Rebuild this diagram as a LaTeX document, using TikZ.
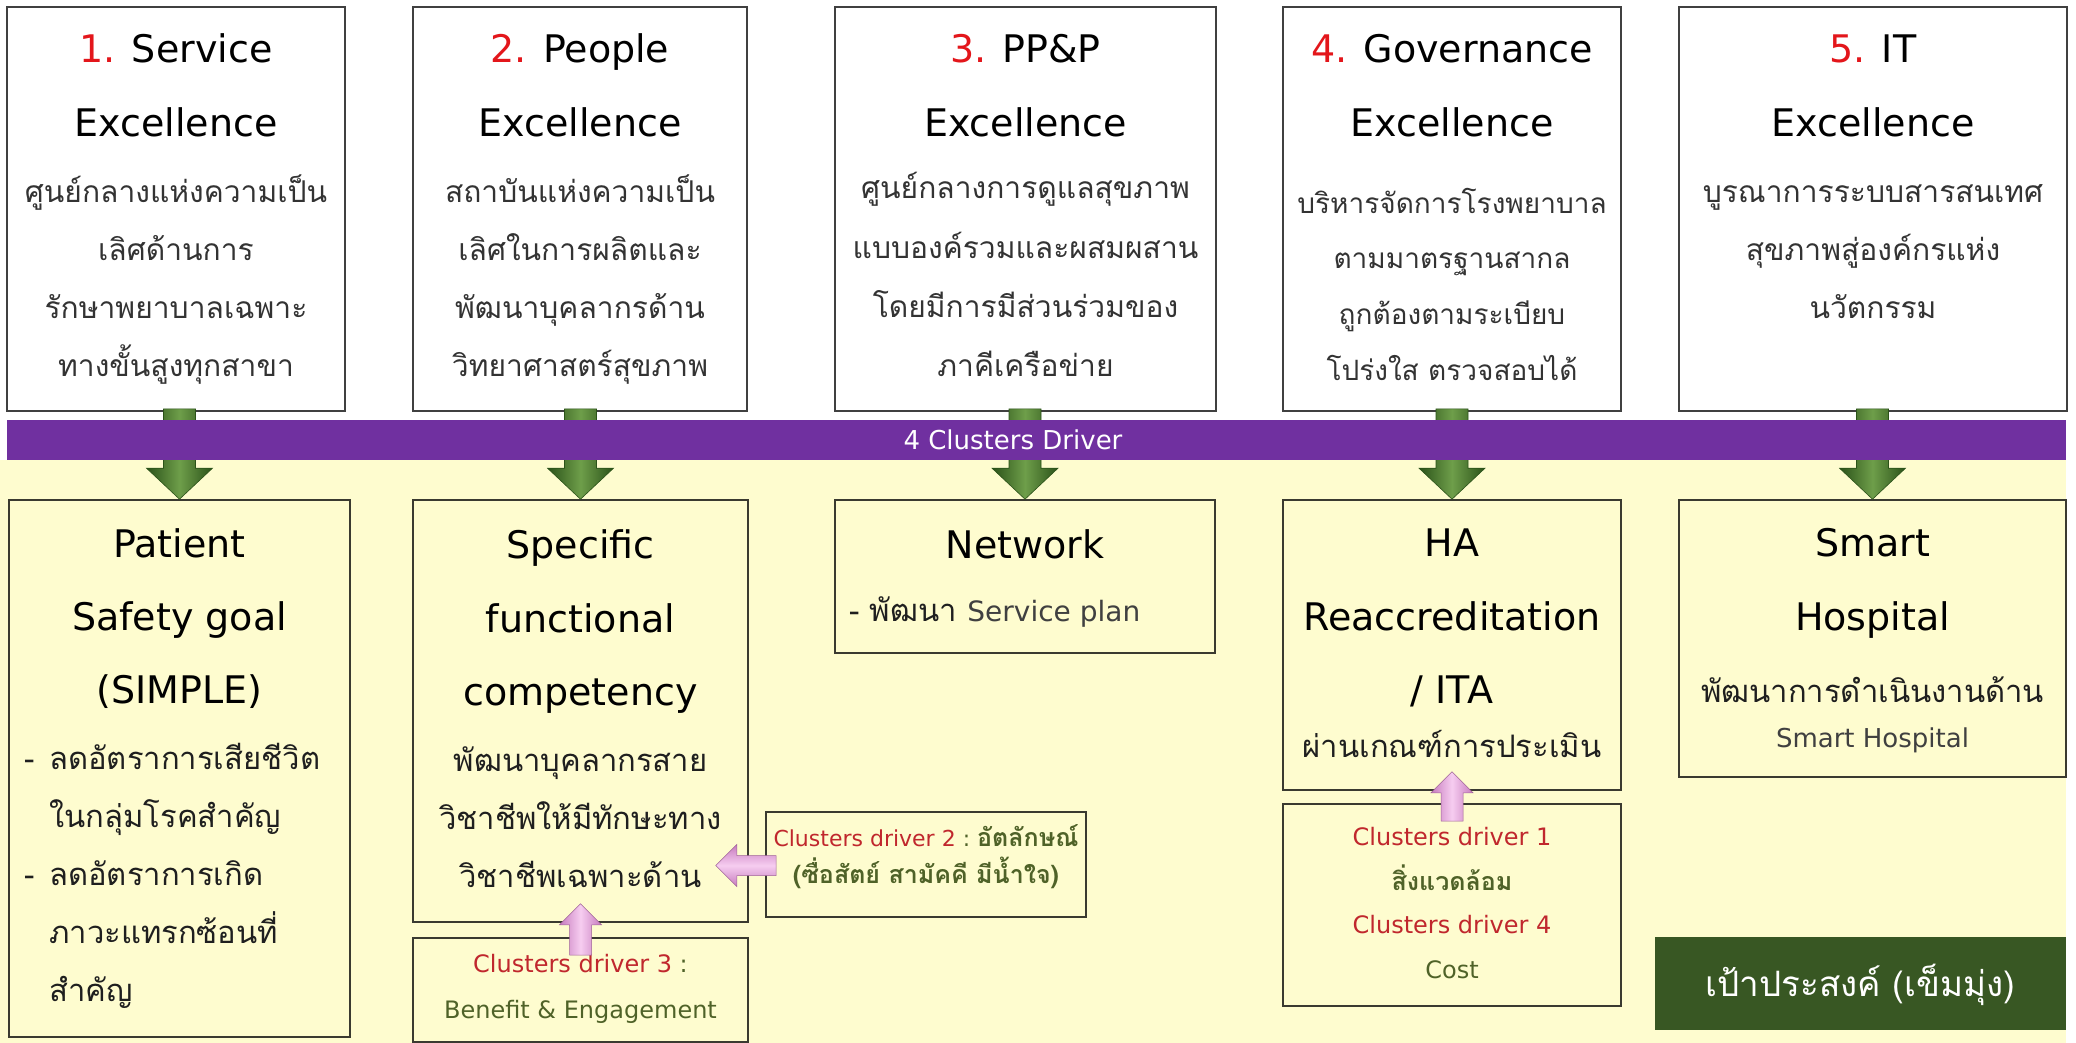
\documentclass[tikz,border=0pt]{standalone}
\usepackage{fontspec}
\setmainfont{DejaVu Sans}
\newfontfamily\thai[Script=Thai]{Loma}
\usetikzlibrary{calc}
\definecolor{numred}{HTML}{E3161B}
\definecolor{cred}{HTML}{C0272D}
\definecolor{olive}{HTML}{4F6228}
\definecolor{bandc}{HTML}{7030A0}
\definecolor{bgy}{HTML}{FEFCCF}
\definecolor{goalg}{HTML}{385723}
\definecolor{gdark}{HTML}{2B5219}
\definecolor{glight}{HTML}{6E9E4A}
\definecolor{pklight}{HTML}{F6CDF0}
\definecolor{pkdark}{HTML}{C77BBE}
\definecolor{edgec}{HTML}{404040}
\definecolor{edgeb}{HTML}{3A3A30}
\definecolor{thgray}{HTML}{333333}
\newcommand\grarrow[3]{% top node, bottom node, name
  \path (#2.north) coordinate (#3tip);
  \coordinate (#3top) at ($(#3tip |- #1.south)+(0,-3)$);
  \shade[left color=gdark,right color=gdark,middle color=glight,draw=gdark,line width=0.6pt]
    ($(#3top)+(-16,0)$) -- ($(#3top)+(16,0)$) -- ($(#3tip)+(16,-31)$) -- ($(#3tip)+(33,-31)$)
    -- (#3tip) -- ($(#3tip)+(-33,-31)$) -- ($(#3tip)+(-16,-31)$) -- cycle;}
\newcommand\pkup[3]{% from node (bottom), to node (top), name
  \coordinate (#3tip) at ($(#2.south)+(0,-19)$);
  \coordinate (#3tail) at ($(#3tip |- #1.north)+(0,18)$);
  \shade[left color=pkdark,right color=pkdark,middle color=pklight,draw=pkdark!80!black,line width=0.5pt]
    ($(#3tail)+(-11,0)$) -- ($(#3tip)+(-11,21)$) -- ($(#3tip)+(-21,21)$) -- (#3tip)
    -- ($(#3tip)+(21,21)$) -- ($(#3tip)+(11,21)$) -- ($(#3tail)+(11,0)$) -- cycle;}
\tikzset{
  topbox/.style={draw=edgec,line width=1.6pt,fill=white,inner sep=0},
  botbox/.style={draw=edgeb,line width=1.6pt,fill=bgy,inner sep=0},
  ttl/.style={anchor=base,inner sep=0,font=\fontsize{38}{40}\selectfont},
  desc/.style={anchor=base,inner sep=0,text=thgray,font=\thai\fontsize{30}{32}\selectfont},
  bdesc/.style={anchor=base,inner sep=0,text=black!88,font=\thai\fontsize{31}{33}\selectfont},
  clus/.style={anchor=base,inner sep=0,font=\fontsize{24}{26}\selectfont},
}
\newcommand\thb{\thai\bfseries\fontsize{25}{27}\selectfont}
\begin{document}
\begin{tikzpicture}[x=1pt,y=-1pt]
\useasboundingbox (0,0) rectangle (2076,1043);
\fill[white] (0,0) rectangle (2076,1043);
\fill[bgy] (0,460) rectangle (2066,1043);
% top boxes
\node[topbox,minimum width=338,minimum height=404] (t1) at (176,209) {};
\node[topbox,minimum width=334,minimum height=404] (t2) at (580,209) {};
\node[topbox,minimum width=381,minimum height=404] (t3) at (1025.5,209) {};
\node[topbox,minimum width=338,minimum height=404] (t4) at (1452,209) {};
\node[topbox,minimum width=388,minimum height=404] (t5) at (1873,209) {};
% bottom boxes
\node[botbox,minimum width=341,minimum height=537] (b1) at (179.5,768.5) {};
\node[botbox,minimum width=335,minimum height=422] (b2) at (580.5,711) {};
\node[botbox,minimum width=380,minimum height=153] (b3) at (1025,576.5) {};
\node[botbox,minimum width=338,minimum height=290] (b4) at (1452,645) {};
\node[botbox,minimum width=387,minimum height=277] (b5) at (1872.5,638.5) {};
\node[botbox,minimum width=335,minimum height=104] (cd3) at (580.5,990) {};
\node[botbox,minimum width=320,minimum height=105] (cd2) at (926,864.5) {};
\node[botbox,minimum width=338,minimum height=202] (cd14) at (1452,905) {};
\node[fill=goalg,inner sep=0,minimum width=411,minimum height=93] (goal) at (1860.5,983.5) {};
% green arrows
\grarrow{t1}{b1}{ga}
\grarrow{t2}{b2}{gb}
\grarrow{t3}{b3}{gc}
\grarrow{t4}{b4}{gd}
\grarrow{t5}{b5}{ge}
% band
\node[fill=bandc,inner sep=0,minimum width=2059,minimum height=40] (band) at (1036.5,440) {};
\node[anchor=base,inner sep=0,text=white,font=\fontsize{26}{28}\selectfont] (bandtxt) at (1013,449) {4 Clusters Driver};
% top texts
\node[ttl] (h1a) at (176,63) {\textcolor{numred}{1.} Service};
\node[ttl] (h1b) at (176,137) {Excellence};
\node[ttl] (h2a) at (580,63) {\textcolor{numred}{2.} People};
\node[ttl] (h2b) at (580,137) {Excellence};
\node[ttl] (h3a) at (1025.5,63) {\textcolor{numred}{3.} PP\&P};
\node[ttl] (h3b) at (1025.5,137) {Excellence};
\node[ttl] (h4a) at (1452,63) {\textcolor{numred}{4.} Governance};
\node[ttl] (h4b) at (1452,137) {Excellence};
\node[ttl] (h5a) at (1873,63) {\textcolor{numred}{5.} IT};
\node[ttl] (h5b) at (1873,137) {Excellence};
\foreach \s [count=\i] in {ศูนย์กลางแห่งความเป็น,เลิศด้านการ,รักษาพยาบาลเฉพาะ,ทางขั้นสูงทุกสาขา}
  \node[desc] (d1-\i) at (176,{202+(\i-1)*58.3}) {\s};
\foreach \s [count=\i] in {สถาบันแห่งความเป็น,เลิศในการผลิตและ,พัฒนาบุคลากรด้าน,วิทยาศาสตร์สุขภาพ}
  \node[desc] (d2-\i) at (580,{202+(\i-1)*58.3}) {\s};
\foreach \s [count=\i] in {ศูนย์กลางการดูแลสุขภาพ,แบบองค์รวมและผสมผสาน,โดยมีการมีส่วนร่วมของ,ภาคีเครือข่าย}
  \node[desc] (d3-\i) at (1025.5,{199+(\i-1)*59}) {\s};
\foreach \s [count=\i] in {บริหารจัดการโรงพยาบาล,ตามมาตรฐานสากล,ถูกต้องตามระเบียบ,โปร่งใส ตรวจสอบได้}
  \node[desc,font=\thai\fontsize{28}{30}\selectfont] (d4-\i) at (1452,{213+(\i-1)*55.7}) {\s};
\foreach \s [count=\i] in {บูรณาการระบบสารสนเทศ,สุขภาพสู่องค์กรแห่ง,นวัตกรรม}
  \node[desc] (d5-\i) at (1873,{202+(\i-1)*58}) {\s};
% bottom texts
\node[ttl] (p1) at (179.5,557) {Patient};
\node[ttl] (p2) at (179.5,630) {Safety goal};
\node[ttl] (p3) at (179.5,703) {(SIMPLE)};
\node[bdesc,anchor=base west] (p4) at (24,769) {\makebox[25pt][l]{-}ลดอัตราการเสียชีวิต};
\node[bdesc,anchor=base west] (p5) at (49,827) {ในกลุ่มโรคสำคัญ};
\node[bdesc,anchor=base west] (p6) at (24,885) {\makebox[25pt][l]{-}ลดอัตราการเกิด};
\node[bdesc,anchor=base west] (p7) at (49,943) {ภาวะแทรกซ้อนที่};
\node[bdesc,anchor=base west] (p8) at (49,1001) {สำคัญ};
\node[ttl] (s1) at (580.5,558) {Specific};
\node[ttl] (s2) at (580.5,632) {functional};
\node[ttl] (s3) at (580.5,705) {competency};
\foreach \s [count=\i] in {พัฒนาบุคลากรสาย,วิชาชีพให้มีทักษะทาง,วิชาชีพเฉพาะด้าน}
  \node[bdesc] (s\i d) at (580.5,{771+(\i-1)*58}) {\s};
\node[ttl] (n1) at (1025,558) {Network};
\node[bdesc,anchor=base west] (n2) at (849,621) {- พัฒนา {\rmfamily\fontsize{28}{30}\selectfont\color{black!75}Service plan}};
\node[ttl] (ha1) at (1452,556) {HA};
\node[ttl] (ha2) at (1452,630) {Reaccreditation};
\node[ttl] (ha3) at (1452,703) {/ ITA};
\node[bdesc] (ha4) at (1452,757) {ผ่านเกณฑ์การประเมิน};
\node[ttl] (sm1) at (1872.5,556) {Smart};
\node[ttl] (sm2) at (1872.5,630) {Hospital};
\node[bdesc] (sm3) at (1872.5,702) {พัฒนาการดำเนินงานด้าน};
\node[anchor=base,inner sep=0,text=black!75,font=\fontsize{26}{28}\selectfont] (sm4) at (1872.5,747) {Smart Hospital};
% cluster driver texts
\node[clus,font=\fontsize{22}{24}\selectfont] (c2a) at (926,846) {\textcolor{cred}{Clusters driver 2}\textcolor{olive}{~:~{\thb อัตลักษณ์}}};
\node[clus,text=olive] (c2b) at (926,883) {\thb (ซื่อสัตย์ สามัคคี มีน้ำใจ)};
\node[clus] (c3a) at (580.5,972) {\textcolor{cred}{Clusters driver 3}\textcolor{olive}{~:}};
\node[clus,text=olive] (c3b) at (580.5,1018) {Benefit \& Engagement};
\node[clus,text=cred] (c1a) at (1452,845) {Clusters driver 1};
\node[clus,text=olive] (c1b) at (1452,890) {\thb สิ่งแวดล้อม};
\node[clus,text=cred] (c4a) at (1452,933) {Clusters driver 4};
\node[clus,text=olive] (c4b) at (1452,978) {Cost};
\node[anchor=base,inner sep=0,text=white,font=\thai\fontsize{35}{37}\selectfont] (goaltxt) at (1860.5,996) {เป้าประสงค์ (เข็มมุ่ง)};
% pink arrows
\pkup{cd3}{b2}{pa}
\pkup{cd14}{b4}{pb}
\coordinate (pctail) at ($(cd2.west)+(11,1)$);
\coordinate (pctip) at ($(b2.east |- pctail)+(-33,0)$);
\shade[top color=pkdark,bottom color=pkdark,middle color=pklight,draw=pkdark!80!black,line width=0.5pt]
  ($(pctail)+(0,-10)$) -- ($(pctip)+(21,-10)$) -- ($(pctip)+(21,-21)$) -- (pctip)
  -- ($(pctip)+(21,21)$) -- ($(pctip)+(21,10)$) -- ($(pctail)+(0,10)$) -- cycle;
\end{tikzpicture}
\end{document}
